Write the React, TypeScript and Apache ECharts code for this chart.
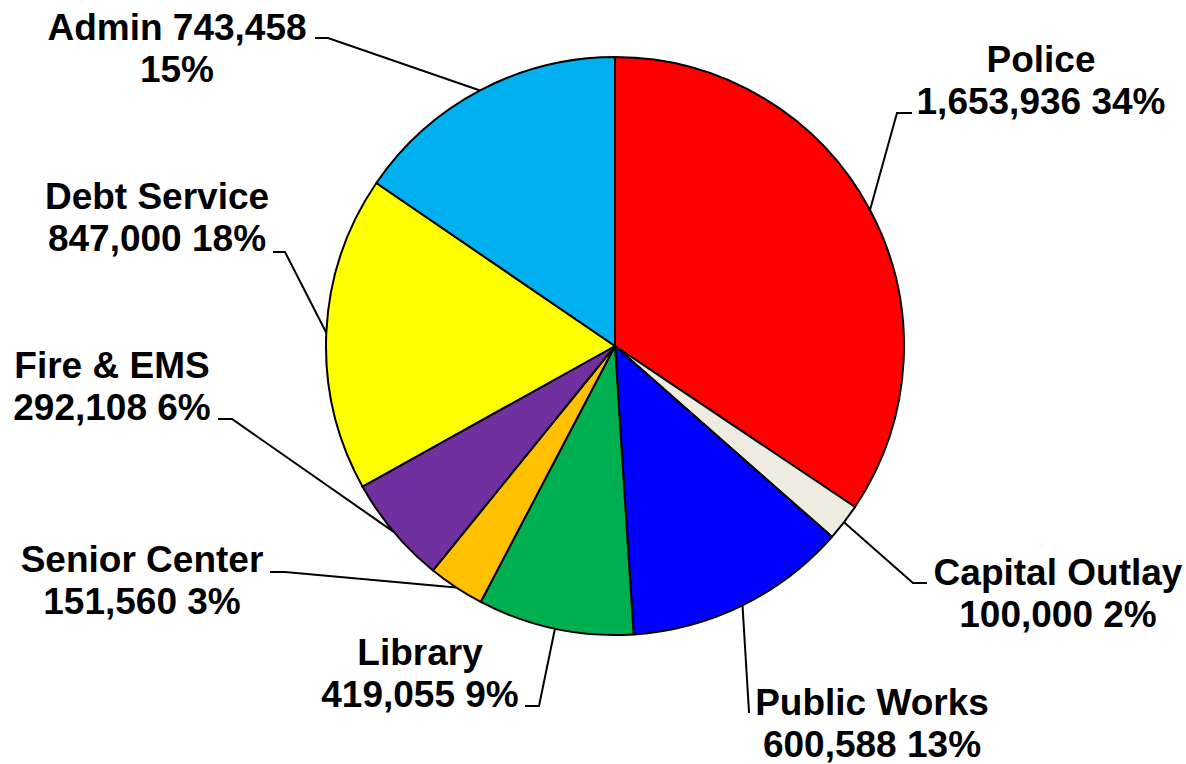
import React, { useEffect, useRef } from "react";
import * as echarts from "echarts";

// ---- data ----
const categories = [
  "Police",
  "Capital Outlay",
  "Public Works",
  "Library",
  "Senior Center",
  "Fire & EMS",
  "Debt Service",
  "Admin",
];
const values = [1653936, 100000, 600588, 419055, 151560, 292108, 847000, 743458];
const sliceColors = [
  "#FF0000",
  "#EEECE1",
  "#0000FF",
  "#00B050",
  "#FFC000",
  "#7030A0",
  "#FFFF00",
  "#00B0F0",
];
// categories whose percentage wraps onto its own line
const pctOnOwnLine = ["Admin"];

// ---- layout (positions only) ----
const CX = 615;
const CY = 346;
const R = 289;
// label block: [centerX, topY]
const labelPos: number[][] = [
  [1041, 38],
  [1058, 551],
  [872, 681],
  [420, 631],
  [142, 538],
  [112, 344],
  [157, 175],
  [177, 6],
];
// leader line: elbow and end points
const leaderElbow: number[][] = [
  [897, 113],
  [913, 583],
  [749, 712],
  [539, 706],
  [285, 572],
  [232, 419],
  [285, 252],
  [328, 38],
];
const leaderEnd: number[][] = [
  [912, 113],
  [927, 583],
  [750, 712],
  [525, 706],
  [270, 572],
  [218, 419],
  [273, 252],
  [315, 38],
];

const fmt = (v: number) => v.toLocaleString("en-US");

export default function App() {
  const ref = useRef<HTMLDivElement>(null);
  useEffect(() => {
    if (!ref.current) return;
    const chart = echarts.init(ref.current, undefined, { renderer: "svg" });
    const total = values.reduce((a, b) => a + b, 0);
    const edgePoint = (i: number) => {
      let cum = 0;
      for (let k = 0; k < i; k++) cum += values[k];
      const mid = ((cum + values[i] / 2) / total) * Math.PI * 2;
      return [CX + R * Math.sin(mid), CY - R * Math.cos(mid)];
    };
    chart.setOption({
      animation: false,
      backgroundColor: "#ffffff",
      series: [
        {
          type: "pie",
          center: [CX, CY],
          radius: R,
          startAngle: 90,
          clockwise: true,
          avoidLabelOverlap: false,
          percentPrecision: 0,
          data: categories.map((name, i) => ({
            name,
            value: values[i],
            itemStyle: { color: sliceColors[i] },
          })),
          itemStyle: { borderColor: "#000000", borderWidth: 2 },
          emphasis: { disabled: true },
          label: {
            show: true,
            position: "outside",
            color: "#000000",
            fontFamily: "'Liberation Sans', Arial, sans-serif",
            fontWeight: "bold",
            fontSize: 37,
            lineHeight: 42,
            align: "center",
            formatter: (p: any) => {
              const sep = pctOnOwnLine.includes(p.name) ? " " : "\n";
              const sep2 = pctOnOwnLine.includes(p.name) ? "\n" : " ";
              return `${p.name}${sep}${fmt(p.value)}${sep2}${p.percent}%`;
            },
          },
          labelLine: {
            show: true,
            smooth: false,
            lineStyle: { color: "#000000", width: 2 },
          },
          labelLayout: (params: any) => {
            const i = params.dataIndex;
            return {
              x: labelPos[i][0],
              y: labelPos[i][1],
              align: "center",
              verticalAlign: "top",
              hideOverlap: false,
              labelLinePoints: [edgePoint(i), leaderElbow[i], leaderEnd[i]],
            };
          },
        },
      ],
    });
    return () => chart.dispose();
  }, []);
  return (
    <div
      ref={ref}
      style={{ position: "fixed", left: 0, top: 0, width: 1186, height: 764 }}
    />
  );
}
